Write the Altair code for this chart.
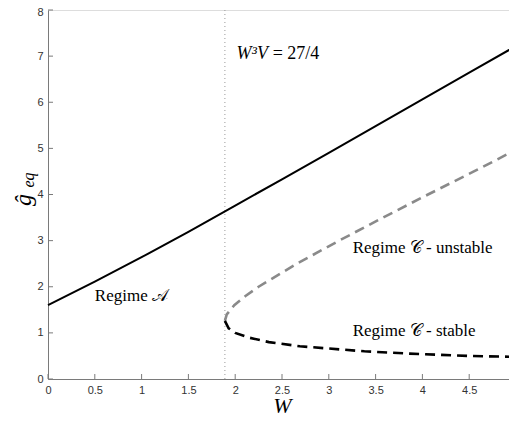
import altair as alt
import pandas as pd

# Regime A (solid)
a_W = [0, 0.5, 1.0, 1.5, 2.0, 2.5, 3.0, 3.5, 4.0, 4.5, 5.0]
a_g = [1.60, 2.11, 2.64, 3.19, 3.76, 4.33, 4.90, 5.48, 6.06, 6.64, 7.22]

# Regime C unstable (gray dashed)
cu_W = [1.89, 1.91, 1.99, 2.11, 2.25, 2.66, 3.11, 3.58, 4.06, 4.55, 5.0]
cu_g = [1.26, 1.40, 1.60, 1.80, 2.00, 2.50, 3.00, 3.50, 4.00, 4.50, 4.97]

# Regime C stable (black dashed)
cs_W = [1.89, 1.93, 2.00, 2.14, 2.36, 2.69, 3.38, 3.86, 4.50, 5.0]
cs_g = [1.26, 1.10, 1.00, 0.90, 0.80, 0.71, 0.60, 0.55, 0.50, 0.48]

W_fold = [1.89]
x_ticks = [0, 0.5, 1, 1.5, 2, 2.5, 3, 3.5, 4, 4.5, 5]
y_ticks = [0, 1, 2, 3, 4, 5, 6, 7, 8]

labels_text = ["Regime 𝒜", "Regime 𝒞 - unstable", "Regime 𝒞 - stable"]
labels_W = [0.5, 3.255, 3.255]
labels_g = [1.79, 2.83, 1.05]

H = 369

df_a = pd.DataFrame({"W": a_W, "g": a_g, "i": range(len(a_W))})
df_cu = pd.DataFrame({"W": cu_W, "g": cu_g, "i": range(len(cu_W))})
df_cs = pd.DataFrame({"W": cs_W, "g": cs_g, "i": range(len(cs_W))})
df_fold = pd.DataFrame({"W": W_fold})
df_xt = pd.DataFrame({"t": x_ticks})
df_yt = pd.DataFrame({"t": y_ticks})
df_lab = pd.DataFrame({"text": labels_text, "W": labels_W, "g": labels_g})
df_eq1 = pd.DataFrame({"text": ["W³V"], "W": [2.014], "g": [7.05]})
df_eq2 = pd.DataFrame({"text": ["= 27/4"], "W": [2.40], "g": [7.05]})

xs = alt.Scale(domain=[0, 5], nice=False, zero=False)
ys = alt.Scale(domain=[0, 8], nice=False, zero=False)

axis_common = dict(
    grid=False, ticks=False, domainColor="#7a7a7a", domainWidth=1,
    labelColor="#333333", labelFont="Liberation Sans", labelFontSize=11,
    labelFlush=False, labelOverlap=False, format="~g",
)

x_enc = alt.X("W:Q", scale=xs, axis=alt.Axis(values=x_ticks, labelPadding=5,
              title="W", titleFont="Liberation Serif", titleFontStyle="italic",
              titleFontWeight="normal", titleFontSize=22, titleColor="#000000",
              titlePadding=0, **axis_common))
y_enc = alt.Y("g:Q", scale=ys, axis=alt.Axis(values=y_ticks, labelPadding=5,
              labelOffset={"condition": {"test": "datum.value == 8", "value": 2}, "value": 0},
              title=None, **axis_common))

line_a = alt.Chart(df_a).mark_line(color="#000000", strokeWidth=2).encode(
    x=x_enc, y=y_enc, order="i:Q")
line_cu = alt.Chart(df_cu).mark_line(color="#8a8a8a", strokeWidth=2.6, strokeDash=[10, 6]).encode(
    x=alt.X("W:Q", scale=xs), y=alt.Y("g:Q", scale=ys), order="i:Q")
line_cs = alt.Chart(df_cs).mark_line(color="#000000", strokeWidth=2.6, strokeDash=[10, 6]).encode(
    x=alt.X("W:Q", scale=xs), y=alt.Y("g:Q", scale=ys), order="i:Q")
vline = alt.Chart(df_fold).mark_rule(color="#9a9a9a", strokeWidth=1, strokeDash=[1, 3]).encode(
    x=alt.X("W:Q", scale=xs))

xticks = alt.Chart(df_xt).mark_rule(color="#7a7a7a", strokeWidth=1).encode(
    x=alt.X("t:Q", scale=xs), y=alt.value(H), y2=alt.value(H - 5))
yticks = alt.Chart(df_yt).mark_rule(color="#7a7a7a", strokeWidth=1).encode(
    y=alt.Y("t:Q", scale=ys), x=alt.value(0), x2=alt.value(5))

labs = alt.Chart(df_lab).mark_text(font="Liberation Serif", fontSize=17, align="left",
                                   baseline="middle", color="#000000").encode(
    x=alt.X("W:Q", scale=xs), y=alt.Y("g:Q", scale=ys), text="text:N")
eq1 = alt.Chart(df_eq1).mark_text(font="Liberation Serif", fontSize=18, fontStyle="italic",
                                  align="left", baseline="middle", color="#000000").encode(
    x=alt.X("W:Q", scale=xs), y=alt.Y("g:Q", scale=ys), text="text:N")
eq2 = alt.Chart(df_eq2).mark_text(font="Liberation Serif", fontSize=18,
                                  align="left", baseline="middle", color="#000000").encode(
    x=alt.X("W:Q", scale=xs), y=alt.Y("g:Q", scale=ys), text="text:N")

ytitle_g = alt.Chart(pd.DataFrame({"t": ["ĝ"]})).mark_text(
    font="Liberation Serif", fontSize=24, fontStyle="italic", angle=270,
    align="center", baseline="middle", color="#000000").encode(
    x=alt.value(-24), y=alt.value(190), text="t:N")
ytitle_eq = alt.Chart(pd.DataFrame({"t": ["eq"]})).mark_text(
    font="Liberation Serif", fontSize=16, fontStyle="italic", angle=270,
    align="center", baseline="middle", color="#000000").encode(
    x=alt.value(-19), y=alt.value(170), text="t:N")

chart = alt.layer(
    vline, line_a, line_cu, line_cs, xticks, yticks, labs, eq1, eq2, ytitle_g, ytitle_eq
).properties(
    width=468, height=H,
    autosize=alt.AutoSizeParams(type="none"),
    padding={"left": 40, "top": 2, "right": -7, "bottom": 34},
).configure_view(stroke=None).configure(background="white")

chart.save("out.html", embed_options={"renderer": "svg", "actions": False})
